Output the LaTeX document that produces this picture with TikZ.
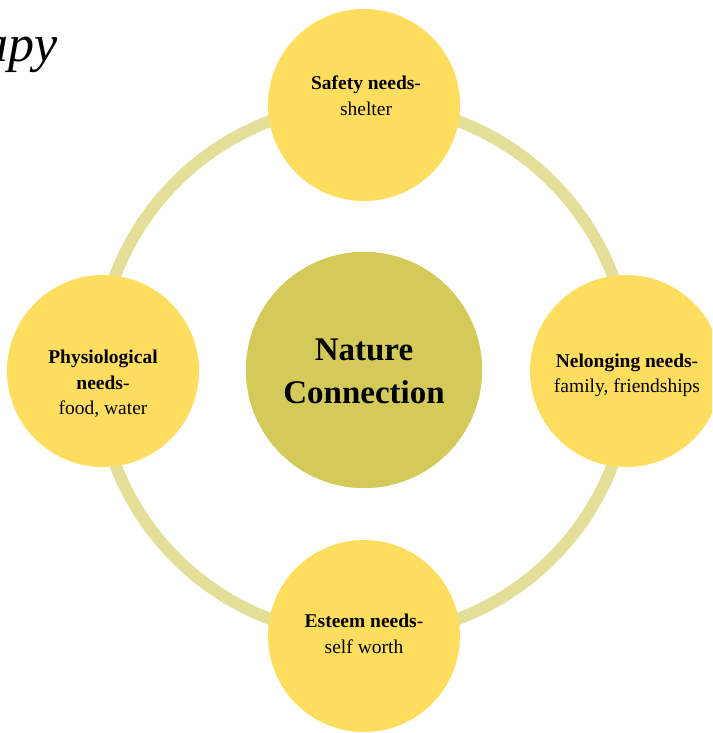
\documentclass[tikz,border=0pt]{standalone}
\usepackage{fontspec}
\setmainfont{Liberation Serif}
\definecolor{satfill}{HTML}{FFDD5F}
\definecolor{corefill}{HTML}{D3CA5A}
\definecolor{ringcol}{HTML}{E3DF98}
\begin{document}
\begin{tikzpicture}[x=1pt,y=-1pt,
  sat/.style={circle,fill=satfill,draw=none,minimum size=192pt,inner sep=0pt},
  core/.style={circle,fill=corefill,draw=none,minimum size=236pt,inner sep=0pt},
  ring/.style={draw=ringcol,line width=12pt},
  txt/.style={align=center,inner sep=0pt,font=\fontsize{19.5}{25.5}\selectfont},
  coretxt/.style={align=center,inner sep=0pt,font=\bfseries\fontsize{33}{43}\selectfont}]
\clip (0,0) rectangle (712,733);
\fill[white] (0,0) rectangle (712,733);
\node[core] (c) at (364,370) {};
\draw[ring] (c.center) circle[radius=266];
\node[core] (core) at (364,370) {};
\node[sat] (top) at (364,105) {};
\node[sat] (bot) at (364,636) {};
\node[sat] (lft) at (103,371) {};
\node[sat] (rgt) at (626,371) {};
\node[coretxt] (coret) at (364,371) {Nature\\Connection};
\node[txt] (topt) at (366,95.5) {\textbf{Safety needs}-\\shelter};
\node[txt] (bott) at (364,634) {\textbf{Esteem needs}-\\self worth};
\node[txt] (lftt) at (103,384) {\textbf{Physiological}\\\textbf{needs}-\\food, water};
\node[txt] (rgtt) at (627,375.5) {\textbf{Nelonging needs}-\\family, friendships};
\node[anchor=base east,inner sep=0pt,font=\itshape\fontsize{52}{52}\selectfont] (title) at (58,62) {Therapy};
\end{tikzpicture}
\end{document}
